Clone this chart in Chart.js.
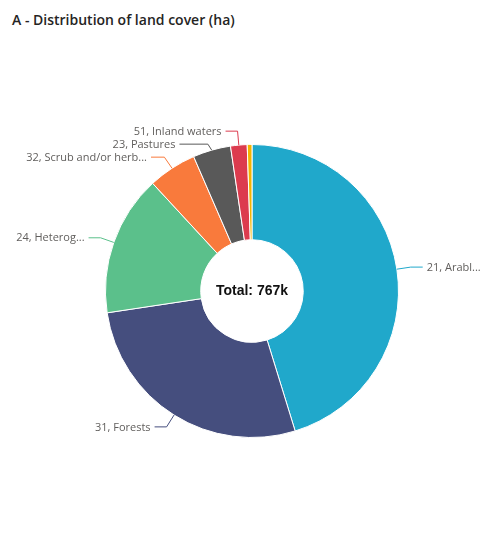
<!DOCTYPE html>
<html>
<head>
<meta charset="utf-8">
<script src="https://cdn.jsdelivr.net/npm/chart.js@4/dist/chart.umd.min.js"></script>
<style>
  html, body { margin: 0; padding: 0; background: #ffffff; }
  #wrap { position: relative; width: 500px; height: 548px; }
  #title {
    position: absolute; left: 12px; top: 10px;
    font-family: "Open Sans", "Noto Sans", sans-serif; font-weight: 600;
    font-size: 14px; color: #252423; white-space: nowrap;
  }
  canvas { position: absolute; left: 0; top: 0; }
</style>
</head>
<body>
<div id="wrap">
  <div id="title">A - Distribution of land cover (ha)</div>
  <canvas id="c" width="500" height="548"></canvas>
</div>
<script>
// Land cover classes (CORINE level 2), area in thousand hectares
const categories = [
  "21, Arable land",
  "31, Forests",
  "24, Heterogeneous agricultural areas",
  "32, Scrub and/or herbaceous vegetation associations",
  "23, Pastures",
  "51, Inland waters",
  "41, Inland wetlands"
];
const areaK = [347, 210, 119, 41, 32, 14, 4];
// Outside labels as they fit beside the ring ("" = no label)
const shownLabels = [
  "21, Arabl...",
  "31, Forests",
  "24, Heterog...",
  "32, Scrub and/or herb...",
  "23, Pastures",
  "51, Inland waters",
  ""
];
const sliceColors = ["#20A8CB", "#454E7E", "#5BC08B", "#F97A3C", "#595959", "#DC3B4E", "#F4B400"];
const totalText = "Total: " + areaK.reduce((a, b) => a + b, 0) + "k";

const labelFont = '11px "Open Sans", "Noto Sans", sans-serif';

// Leader lines and outside labels
const outsideLabels = {
  id: 'outsideLabels',
  afterDatasetsDraw(chart) {
    const ctx = chart.ctx;
    const arcs = chart.getDatasetMeta(0).data;
    const items = [];
    arcs.forEach((arc, i) => {
      if (!shownLabels[i]) return;
      const p = arc.getProps(['x', 'y', 'startAngle', 'endAngle', 'outerRadius'], true);
      const mid = (p.startAngle + p.endAngle) / 2;
      const cx = Math.cos(mid), cy = Math.sin(mid);
      const ax = p.x + cx * p.outerRadius, ay = p.y + cy * p.outerRadius;
      const ex = p.x + cx * (p.outerRadius + 14), ey = p.y + cy * (p.outerRadius + 14);
      items.push({ i, ax, ay, ex, ey, y: ey, right: cx >= 0 });
    });
    // keep labels on each side from overlapping
    [true, false].forEach(side => {
      const list = items.filter(it => it.right === side).sort((a, b) => a.y - b.y);
      for (let k = 1; k < list.length; k++) {
        if (list[k].y < list[k - 1].y + 13) list[k].y = list[k - 1].y + 13;
      }
    });
    ctx.save();
    ctx.font = labelFont;
    ctx.textBaseline = 'middle';
    ctx.lineWidth = 1;
    items.forEach(it => {
      const shift = Math.abs(it.y - it.ey);
      const seg = 12 + shift * 2.2;
      const dir = it.right ? 1 : -1;
      const endX = it.ex + dir * seg;
      ctx.strokeStyle = sliceColors[it.i];
      ctx.beginPath();
      ctx.moveTo(it.ax, it.ay);
      ctx.lineTo(it.ex, it.y);
      ctx.lineTo(endX, it.y);
      ctx.stroke();
      ctx.fillStyle = '#605E5C';
      ctx.textAlign = it.right ? 'left' : 'right';
      ctx.fillText(shownLabels[it.i], endX + dir * 4, it.y + 0.5);
    });
    ctx.restore();
  }
};

// Total in the centre hole
const centerTotal = {
  id: 'centerTotal',
  afterDatasetsDraw(chart) {
    const arc = chart.getDatasetMeta(0).data[0];
    const ctx = chart.ctx;
    ctx.save();
    ctx.font = 'bold 14px "Liberation Sans", Arial, sans-serif';
    ctx.fillStyle = '#111111';
    ctx.textAlign = 'center';
    ctx.textBaseline = 'middle';
    ctx.fillText(totalText, arc.x, arc.y);
    ctx.restore();
  }
};

new Chart(document.getElementById('c'), {
  type: 'doughnut',
  data: {
    labels: categories,
    datasets: [{
      data: areaK,
      backgroundColor: sliceColors,
      borderColor: '#ffffff',
      borderWidth: 1
    }]
  },
  options: {
    responsive: false,
    maintainAspectRatio: false,
    animation: false,
    cutout: '35%',
    layout: { padding: { left: 105, right: 101, top: 144, bottom: 110 } },
    plugins: {
      legend: { display: false },
      tooltip: { enabled: false }
    }
  },
  plugins: [outsideLabels, centerTotal]
});
</script>
</body>
</html>
